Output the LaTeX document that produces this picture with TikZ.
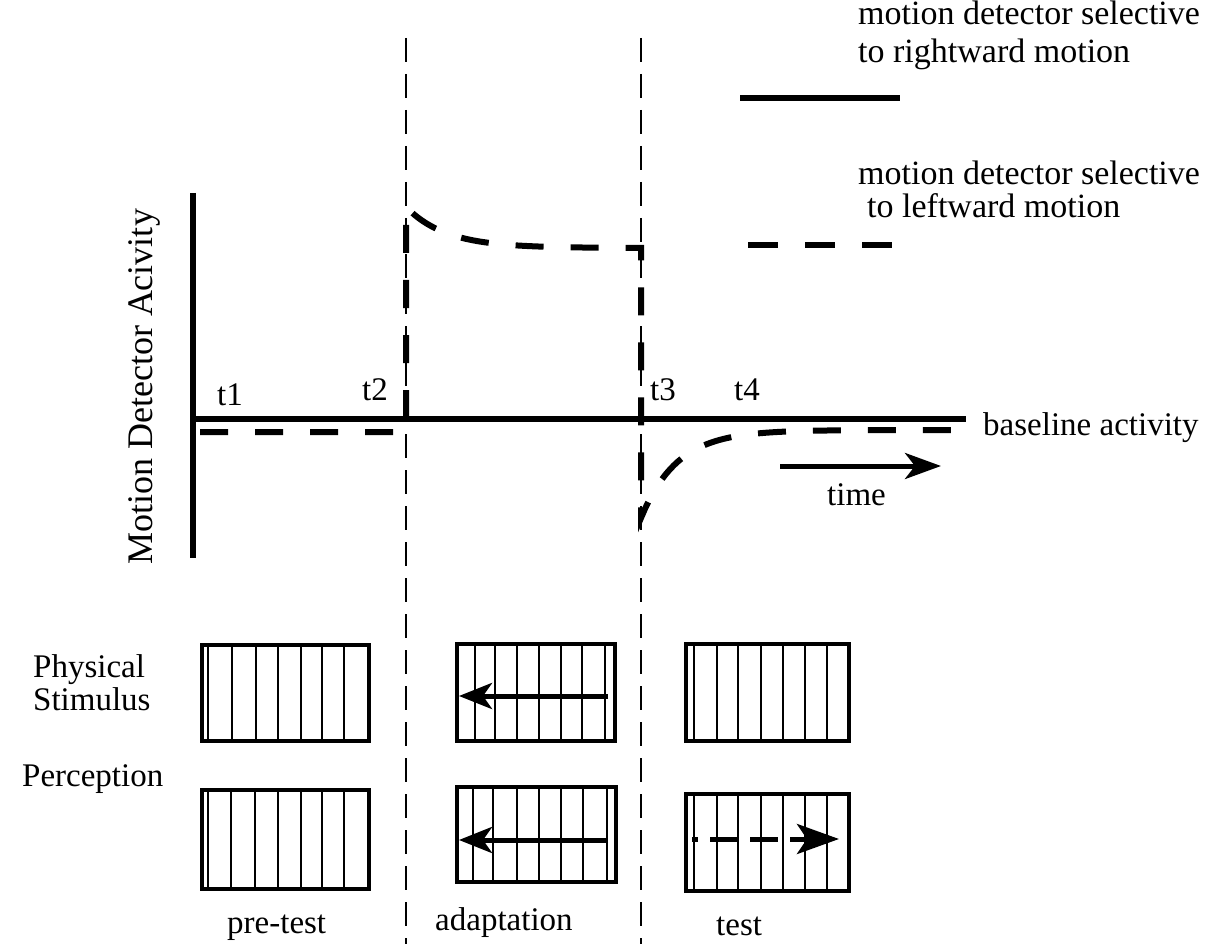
\documentclass[tikz,border=0pt]{standalone}
\usepackage{fontspec}
\setmainfont{Liberation Serif}
\usetikzlibrary{arrows.meta}
\begin{document}
\begin{tikzpicture}[x=1pt,y=-1pt,
  every node/.style={inner sep=0pt, font=\fontsize{33}{36}\selectfont},
  legendtext/.style={anchor=base west, font=\fontsize{34}{38}\selectfont},
  lbl/.style={anchor=base west},
  solidline/.style={line width=6pt},
  detect/.style={line width=6pt, dash pattern=on 28pt off 27pt},
  guide/.style={line width=2.5pt, dash pattern=on 24pt off 12pt},
  frame/.style={draw, line width=3.5pt, anchor=north west},
  stripe/.style={line width=2.5pt},
  mot/.style={line width=5pt, -{Stealth[length=33pt,width=26pt,inset=9pt]}},
  motdash/.style={line width=5pt, dash pattern=on 28pt off 12pt, dash phase=22pt, -{Stealth[length=42pt,width=30pt,inset=10pt]}},
  timearrow/.style={line width=5pt, -{Stealth[length=36pt,width=26pt,inset=10pt]}}
]
\useasboundingbox (0,0) rectangle (1216,944);

% guide lines
\coordinate (g2top) at (406,38);
\coordinate (g2bot) at (406,944);
\coordinate (g3top) at (641,38);
\coordinate (g3bot) at (641,944);
\draw[guide] (g2top) -- (g2bot);
\draw[guide] (g3top) -- (g3bot);

% axes
\coordinate (ytop) at (193,193);
\coordinate (ybot) at (193,558);
\coordinate (bl0) at (193,419);
\coordinate (bl1) at (966,419);
\draw[solidline] (ytop) -- (ybot);
\draw[solidline] (bl0) -- (bl1);

% leftward detector activity
\coordinate (lstart) at (200,432);
\coordinate (ljump) at (406,432);
\coordinate (ldrop) at (641,518);
\draw[detect] (lstart) -- (ljump)
  -- plot[domain=406:641, samples=60] (\x, {248-41*exp(-(\x-406)/40)})
  -- (ldrop)
  -- plot[domain=641:966, samples=80] (\x, {430+88*exp(-(\x-641)/36)});

% labels on graph
\node[rotate=90, anchor=base, font=\fontsize{36}{38}\selectfont] (ylab) at (152,387) {Motion Detector Acivity};
\node[lbl] (t1) at (217,405) {t1};
\node[lbl] (t2) at (362,400) {t2};
\node[lbl] (t3) at (650,400) {t3};
\node[lbl] (t4) at (734,400) {t4};
\node[lbl] (base) at (983,435) {baseline activity};
\coordinate (ta0) at (780,466);
\coordinate (ta1) at (941,466);
\draw[timearrow] (ta0) -- (ta1);
\node[lbl] (time) at (827,505) {time};

% legend
\node[legendtext] (leg1a) at (858,25) {motion detector selective};
\node[legendtext] (leg1b) at (858,63) {to rightward motion};
\coordinate (lr0) at (740,98);
\coordinate (lr1) at (900,98);
\draw[solidline] (lr0) -- (lr1);
\node[legendtext] (leg2a) at (858,185) {motion detector selective};
\node[legendtext] (leg2b) at (867,218) {to leftward motion};
\coordinate (ll0) at (748,245);
\coordinate (ll1) at (893,245);
\draw[line width=6pt, dash pattern=on 30pt off 27pt] (ll0) -- (ll1);

% row labels
\node[lbl] (phys) at (33,677) {Physical};
\node[lbl] (stim) at (33,710) {Stimulus};
\node[lbl] (perc) at (22,786) {Perception};

% column labels
\node[lbl] (pre) at (227,933) {pre-test};
\node[lbl] (adapt) at (435,930) {adaptation};
\node[lbl] (test) at (716,935) {test};

% stimulus boxes
\node[frame, minimum width=167pt, minimum height=96pt] (s1) at (200,643) {};
\foreach \s in {208,232,256,278,301,322,344} \draw[stripe] (\s,643) -- (\s,739);
\node[frame, minimum width=167pt, minimum height=99pt] (p1) at (200,788) {};
\foreach \s in {208,231,255,278,301,322,344} \draw[stripe] (\s,788) -- (\s,887);

\node[frame, minimum width=158pt, minimum height=97pt] (s2) at (455,642) {};
\foreach \s in {475,495,517,539,561,582,605} \draw[stripe] (\s,642) -- (\s,739);
\node[frame, minimum width=159pt, minimum height=95pt] (p2) at (455,785) {};
\foreach \s in {473,493,517,539,561,583,607} \draw[stripe] (\s,785) -- (\s,880);

\node[frame, minimum width=163pt, minimum height=97pt] (s3) at (684,642) {};
\foreach \s in {694,717,738,761,783,805,827} \draw[stripe] (\s,642) -- (\s,739);
\node[frame, minimum width=163pt, minimum height=97pt] (p3) at (684,792) {};
\foreach \s in {694,717,738,761,783,805,827} \draw[stripe] (\s,792) -- (\s,889);

% motion arrows
\coordinate (a1s) at (608,696);
\coordinate (a1e) at (459,696);
\draw[mot] (a1s) -- (a1e);
\coordinate (a2s) at (608,840);
\coordinate (a2e) at (459,840);
\draw[mot] (a2s) -- (a2e);
\coordinate (a3s) at (692,839);
\coordinate (a3e) at (839,839);
\draw[motdash] (a3s) -- (a3e);
\end{tikzpicture}
\end{document}
